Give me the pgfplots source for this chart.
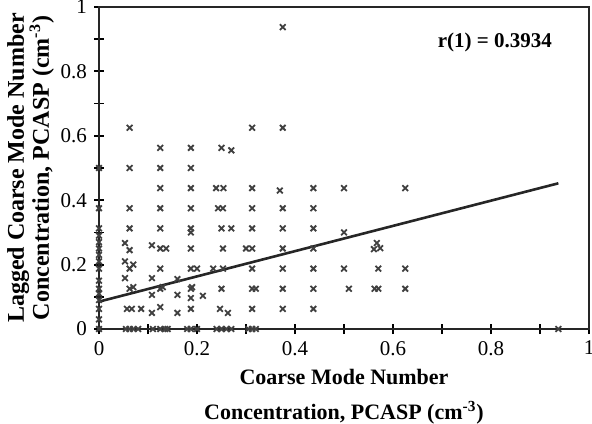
\documentclass[border=0pt]{standalone}
\usepackage{fontspec}
\setmainfont{Liberation Serif}
\usepackage{pgfplots}
\usepackage{pgfplotstable}
\pgfplotsset{compat=1.18}

% lagged vs. current coarse mode number concentration (cm^-3)
\pgfplotstableread{
x y
0 0
0 0.03
0 0.0625
0 0.09
0 0.11
0 0.125
0 0.15
0 0.1875
0 0.21
0 0.23
0 0.25
0 0.27
0 0.29
0 0.3125
0 0.375
0 0.5
0.055 0
0.0625 0
0.07 0
0.08 0
0.057 0.0625
0.067 0.0625
0.0625 0.125
0.07 0.13
0.0625 0.1875
0.07 0.2
0.053 0.21
0.0625 0.245
0.053 0.267
0.053 0.158
0.0625 0.3125
0.0625 0.375
0.0625 0.5
0.0625 0.625
0.086 0.0625
0.108 0.05
0.108 0.106
0.108 0.158
0.108 0.26
0.11 0
0.125 0
0.135 0
0.14 0
0.125 0.068
0.125 0.125
0.13 0.13
0.125 0.1875
0.125 0.25
0.137 0.25
0.125 0.3125
0.125 0.375
0.125 0.4375
0.125 0.5
0.125 0.5625
0.16 0.05
0.16 0.106
0.16 0.155
0.18 0
0.1875 0
0.2 0
0.1875 0.0625
0.1875 0.096
0.1875 0.125
0.19 0.13
0.1875 0.1875
0.2 0.1875
0.1875 0.25
0.1875 0.3
0.1875 0.3125
0.1875 0.375
0.1875 0.4375
0.1875 0.5
0.1875 0.5625
0.212 0.103
0.24 0
0.25 0
0.26 0
0.27 0
0.247 0.0625
0.263 0.05
0.25 0.125
0.233 0.1875
0.253 0.1875
0.253 0.25
0.25 0.3125
0.27 0.3125
0.243 0.375
0.253 0.375
0.239 0.4375
0.254 0.4375
0.25 0.5625
0.27 0.555
0.30 0.25
0.305 0
0.3125 0
0.32 0
0.3125 0.0625
0.3125 0.125
0.32 0.125
0.3125 0.1875
0.3125 0.25
0.3125 0.3125
0.3125 0.375
0.3125 0.4375
0.3125 0.625
0.375 0.0625
0.375 0.125
0.375 0.1875
0.375 0.25
0.375 0.3125
0.375 0.375
0.369 0.43
0.375 0.625
0.375 0.9375
0.4375 0.0625
0.4375 0.125
0.4375 0.1875
0.4375 0.25
0.4375 0.3125
0.4375 0.375
0.4375 0.4375
0.5 0.1875
0.51 0.125
0.5 0.3
0.5 0.4375
0.5625 0.125
0.57 0.125
0.57 0.1875
0.561 0.248
0.574 0.251
0.567 0.267
0.625 0.125
0.625 0.1875
0.625 0.4375
0.9375 0
}\pcasp

\begin{document}
\begin{tikzpicture}
\begin{axis}[
    name=ax,
    scale only axis,
    width=245pt, height=161pt,
    xmin=0, xmax=1, ymin=0, ymax=1,
    xtick={0,0.2,...,1}, ytick={0,0.2,...,1},
    minor x tick num=1, minor y tick num=1,
    xtick pos=bottom, ytick pos=left,
    tick align=center,
    major tick length=5pt, minor tick length=5pt,
    every tick/.style={black, line width=0.9pt},
    axis line style={line width=1.2pt, black!85},
    tick label style={font=\fontsize{10.5}{12}\selectfont},
    /pgf/number format/assume math mode=true,
    xlabel={Coarse Mode Number\\Concentration, PCASP (cm\textsuperscript{-3})},
    xlabel style={align=center, font=\bfseries\fontsize{11}{17.5}\selectfont},
    ylabel={Lagged Coarse Mode Number\\Concentration, PCASP (cm\textsuperscript{-3})},
    ylabel style={align=center, yshift=-3.5pt, font=\bfseries\fontsize{12}{12.5}\selectfont},
    clip=false,
]
\addplot[only marks, mark=x, mark size=2pt, black!75,
         mark options={line width=0.9pt}] table {\pcasp};
% least squares fit
\addplot[black!85, line width=1.3pt] coordinates {(0,0.085) (0.9375,0.4525)};
\node[font=\bfseries\fontsize{10.5}{12}\selectfont] at (axis cs:0.808,0.891) {r(1) = 0.3934};
\end{axis}
\pgfresetboundingbox
\path ([shift={(-49.5pt,-47pt)}]ax.south west) rectangle ([shift={(1.5pt,3.5pt)}]ax.north east);
\end{tikzpicture}
\end{document}
